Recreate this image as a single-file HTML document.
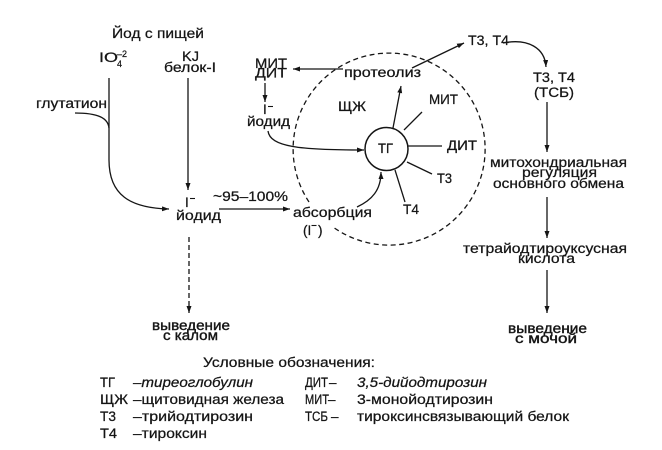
<!DOCTYPE html>
<html><head><meta charset="utf-8"><style>
html,body{margin:0;padding:0;background:#fff;}
svg{display:block;}
text{font-family:"Liberation Sans","DejaVu Sans",sans-serif;font-size:13.5px;fill:#151515;stroke:#151515;stroke-width:0.25;}
.lg{font-size:13.5px;}
.it{font-style:italic;}
.b{stroke-width:0.38;}
.ln{stroke:#151515;stroke-width:1.3;fill:none;}
</style></head><body>
<svg width="662" height="450" viewBox="0 0 662 450" xmlns="http://www.w3.org/2000/svg">
<defs>
<marker id="ah" markerUnits="userSpaceOnUse" markerWidth="8" markerHeight="6" refX="7" refY="2.5" orient="auto">
<path d="M0,0 L7,2.5 L0,5 z" fill="#151515"/>
</marker>
</defs>

<!-- top-left texts -->
<text x="112" y="38" textLength="92" lengthAdjust="spacingAndGlyphs">Йод с пищей</text>
<text x="99" y="62" textLength="19" lengthAdjust="spacingAndGlyphs">IO</text>
<text x="117" y="67" style="font-size:9px">4</text>
<text x="117" y="57" style="font-size:9px" textLength="10" lengthAdjust="spacingAndGlyphs">–2</text>
<text x="182" y="61" textLength="17" lengthAdjust="spacingAndGlyphs">KJ</text>
<text x="164" y="72" textLength="52" lengthAdjust="spacingAndGlyphs">белок-I</text>
<text x="36" y="108" textLength="71" lengthAdjust="spacingAndGlyphs">глутатион</text>

<!-- left connectors -->
<path class="ln" d="M109 78 L109 160 C109 195 130 208 169 209" marker-end="url(#ah)"/>
<path class="ln" d="M75 113 C98 113 108 118 109 128"/>
<path class="ln" d="M188 78 L188 190" marker-end="url(#ah)"/>

<!-- iodide bottom -->
<text x="185" y="207">I</text>
<line class="ln" x1="190" y1="198.5" x2="195" y2="198.5" style="stroke-width:1.1"/>
<text x="176" y="220" textLength="45" lengthAdjust="spacingAndGlyphs">йодид</text>
<text x="213" y="201" textLength="75" lengthAdjust="spacingAndGlyphs">~95–100%</text>
<path class="ln" d="M219 209 L290 209" marker-end="url(#ah)"/>
<path class="ln" d="M189 237 L189 313" style="stroke-dasharray:5 3" marker-end="url(#ah)"/>
<text class="b" x="152" y="330" textLength="78" lengthAdjust="spacingAndGlyphs">выведение</text>
<text class="b" x="163" y="340" textLength="55" lengthAdjust="spacingAndGlyphs">с калом</text>

<!-- absorption -->
<text x="293" y="217" textLength="79" lengthAdjust="spacingAndGlyphs">абсорбция</text>
<text x="303" y="235">(</text>
<text x="307.5" y="235">I</text>
<line class="ln" x1="311.5" y1="225.5" x2="316.5" y2="225.5" style="stroke-width:1.1"/>
<text x="318" y="235">)</text>
<path class="ln" d="M357 207 C372 200 381 190 381 172" marker-end="url(#ah)"/>

<!-- thyroid dashed circle -->
<path class="ln" d="M309 202 A96 96 0 1 1 333 227" style="stroke-dasharray:5 3.5"/>

<!-- MIT DIT top left -->
<text x="255" y="68" textLength="32" lengthAdjust="spacingAndGlyphs">МИТ</text>
<text x="255" y="77.5" textLength="32" lengthAdjust="spacingAndGlyphs">ДИТ</text>
<path class="ln" d="M265 83 L265 102" marker-end="url(#ah)"/>
<text x="263" y="114">I</text>
<line class="ln" x1="268" y1="106.5" x2="273" y2="106.5" style="stroke-width:1.1"/>
<text x="247" y="126" textLength="43" lengthAdjust="spacingAndGlyphs">йодид</text>
<path class="ln" d="M268 131 C270 147 300 150 364 150" marker-end="url(#ah)"/>

<!-- proteolysis -->
<text x="344" y="77" textLength="77" lengthAdjust="spacingAndGlyphs">протеолиз</text>
<path class="ln" d="M343 69 L293 69" marker-end="url(#ah)"/>
<path class="ln" d="M393 128 L401 86" marker-end="url(#ah)"/>
<path class="ln" d="M412 68 L464 43" marker-end="url(#ah)"/>
<text x="338" y="111" textLength="28" lengthAdjust="spacingAndGlyphs">ЩЖ</text>

<!-- TG -->
<circle cx="386.5" cy="149" r="21.5" class="ln" style="stroke-width:1.5"/>
<text x="378" y="153" textLength="15" lengthAdjust="spacingAndGlyphs">ТГ</text>
<line class="ln" x1="404" y1="130" x2="422" y2="112"/>
<line class="ln" x1="408" y1="146" x2="442" y2="146"/>
<line class="ln" x1="407" y1="162" x2="432" y2="174"/>
<line class="ln" x1="395" y1="170" x2="405" y2="202"/>
<text x="429" y="104" textLength="29" lengthAdjust="spacingAndGlyphs">МИТ</text>
<text x="447" y="150" textLength="30" lengthAdjust="spacingAndGlyphs">ДИТ</text>
<text x="437" y="183" textLength="15" lengthAdjust="spacingAndGlyphs">Т3</text>
<text x="403" y="214" textLength="16" lengthAdjust="spacingAndGlyphs">Т4</text>

<!-- right column -->
<text x="468" y="45" textLength="41" lengthAdjust="spacingAndGlyphs">Т3, Т4</text>
<path class="ln" d="M503 43 C528 38 545 48 546 67" marker-end="url(#ah)"/>
<text x="533" y="82" textLength="42" lengthAdjust="spacingAndGlyphs">Т3, Т4</text>
<text x="534" y="97" textLength="40" lengthAdjust="spacingAndGlyphs">(ТСБ)</text>
<path class="ln" d="M547 102 L547 152" marker-end="url(#ah)"/>
<text x="490" y="167" textLength="137" lengthAdjust="spacingAndGlyphs">митохондриальная</text>
<text x="522" y="177" textLength="75" lengthAdjust="spacingAndGlyphs">регуляция</text>
<text x="493" y="188" textLength="131" lengthAdjust="spacingAndGlyphs">основного обмена</text>
<path class="ln" d="M547 197 L547 238" marker-end="url(#ah)"/>
<text x="463" y="253" textLength="164" lengthAdjust="spacingAndGlyphs">тетрайодтироуксусная</text>
<text x="518" y="263" textLength="57" lengthAdjust="spacingAndGlyphs">кислота</text>
<path class="ln" d="M547 270 L547 313" marker-end="url(#ah)"/>
<text class="b" x="508" y="333" textLength="79" lengthAdjust="spacingAndGlyphs">выведение</text>
<text class="b" x="515" y="343" textLength="62" lengthAdjust="spacingAndGlyphs">с мочой</text>

<!-- legend -->
<text class="lg" x="203" y="367" textLength="172" lengthAdjust="spacingAndGlyphs">Условные обозначения:</text>
<text class="lg" x="100" y="387" textLength="15" lengthAdjust="spacingAndGlyphs">ТГ</text>
<text class="lg it" x="133" y="387" textLength="120" lengthAdjust="spacingAndGlyphs">–тиреоглобулин</text>
<text class="lg" x="100" y="404" textLength="28" lengthAdjust="spacingAndGlyphs">ЩЖ</text>
<text class="lg" x="133" y="404" textLength="151" lengthAdjust="spacingAndGlyphs">–щитовидная железа</text>
<text class="lg" x="100" y="421" textLength="16" lengthAdjust="spacingAndGlyphs">Т3</text>
<text class="lg" x="133" y="421" textLength="120" lengthAdjust="spacingAndGlyphs">–трийодтирозин</text>
<text class="lg" x="100" y="438" textLength="17" lengthAdjust="spacingAndGlyphs">Т4</text>
<text class="lg" x="133" y="438" textLength="74" lengthAdjust="spacingAndGlyphs">–тироксин</text>

<text class="lg" x="305" y="387" textLength="23" lengthAdjust="spacingAndGlyphs">ДИТ</text>
<text class="lg" x="329" y="387">–</text>
<text class="lg it" x="357" y="387" textLength="130" lengthAdjust="spacingAndGlyphs">3,5-дийодтирозин</text>
<text class="lg" x="305" y="404" textLength="24" lengthAdjust="spacingAndGlyphs">МИТ</text>
<text class="lg" x="328" y="404">–</text>
<text class="lg" x="357" y="404" textLength="136" lengthAdjust="spacingAndGlyphs">3-монойодтирозин</text>
<text class="lg" x="305" y="421" textLength="23" lengthAdjust="spacingAndGlyphs">ТСБ</text>
<text class="lg" x="331" y="421">–</text>
<text class="lg" x="357" y="421" textLength="212" lengthAdjust="spacingAndGlyphs">тироксинсвязывающий белок</text>
</svg>
</body></html>
